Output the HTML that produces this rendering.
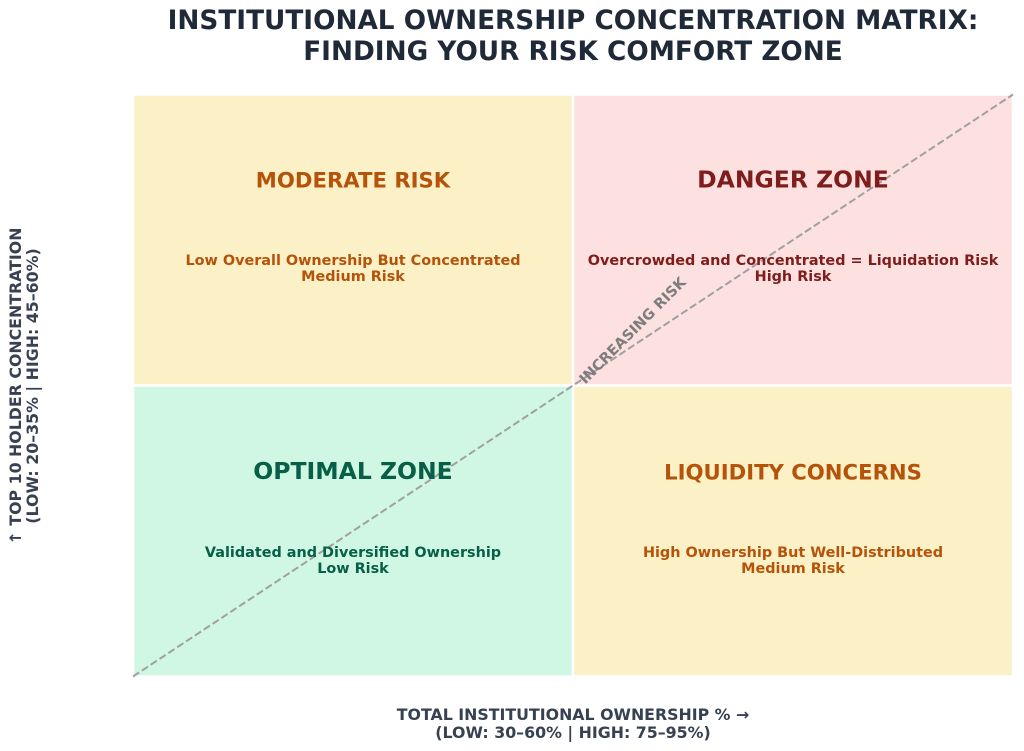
<!DOCTYPE html>
<html>
<head>
<meta charset="utf-8">
<style>
  html, body { margin: 0; padding: 0; background: #ffffff; }
  svg { display: block; }
  text { font-family: "DejaVu Sans", "Liberation Sans", sans-serif; font-weight: bold; }
</style>
</head>
<body>
<svg width="1024" height="751" viewBox="0 0 1024 751" xmlns="http://www.w3.org/2000/svg">
  <rect x="0" y="0" width="1024" height="751" fill="#ffffff"/>

  <!-- Title -->
  <text x="573" y="29" text-anchor="middle" font-size="26.3" fill="#1F2937">INSTITUTIONAL OWNERSHIP CONCENTRATION MATRIX:</text>
  <text x="573" y="60" text-anchor="middle" font-size="26.3" fill="#1F2937">FINDING YOUR RISK COMFORT ZONE</text>

  <!-- Quadrants -->
  <rect x="133" y="94.5" width="440" height="291" fill="#FCF0C6" stroke="#ffffff" stroke-width="2.5"/>
  <rect x="573" y="94.5" width="440" height="291" fill="#FDE0E0" stroke="#ffffff" stroke-width="2.5"/>
  <rect x="133" y="385.5" width="440" height="291" fill="#D0F7E3" stroke="#ffffff" stroke-width="2.5"/>
  <rect x="573" y="385.5" width="440" height="291" fill="#FCF0C6" stroke="#ffffff" stroke-width="2.5"/>

  <!-- Diagonal dashed line -->
  <line x1="133" y1="676.5" x2="1013" y2="94.5" stroke="#A0A0A0" stroke-width="2" stroke-dasharray="7.4 3.2"/>

  <!-- Increasing risk label -->
  <text transform="translate(636,334) rotate(-45)" text-anchor="middle" font-size="14.5" fill="#7D7D7D">INCREASING RISK</text>

  <!-- Moderate risk -->
  <text x="353" y="187.7" text-anchor="middle" font-size="21.2" fill="#B45309">MODERATE RISK</text>
  <text x="353" y="265" text-anchor="middle" font-size="14.4" fill="#B45309">Low Overall Ownership But Concentrated</text>
  <text x="353" y="281" text-anchor="middle" font-size="14.4" fill="#B45309">Medium Risk</text>

  <!-- Danger zone -->
  <text x="793" y="187.5" text-anchor="middle" font-size="23.5" fill="#7F1D1D">DANGER ZONE</text>
  <text x="793" y="265" text-anchor="middle" font-size="14.4" fill="#7F1D1D">Overcrowded and Concentrated = Liquidation Risk</text>
  <text x="793" y="281" text-anchor="middle" font-size="14.4" fill="#7F1D1D">High Risk</text>

  <!-- Optimal zone -->
  <text x="353" y="479" text-anchor="middle" font-size="23.5" fill="#065F46">OPTIMAL ZONE</text>
  <text x="353" y="557" text-anchor="middle" font-size="14.4" fill="#065F46">Validated and Diversified Ownership</text>
  <text x="353" y="573" text-anchor="middle" font-size="14.4" fill="#065F46">Low Risk</text>

  <!-- Liquidity concerns -->
  <text x="793" y="479.6" text-anchor="middle" font-size="21.2" fill="#B45309">LIQUIDITY CONCERNS</text>
  <text x="793" y="557" text-anchor="middle" font-size="14.4" fill="#B45309">High Ownership But Well-Distributed</text>
  <text x="793" y="573" text-anchor="middle" font-size="14.4" fill="#B45309">Medium Risk</text>

  <!-- X axis label -->
  <text x="573" y="720" text-anchor="middle" font-size="15.8" fill="#374151">TOTAL INSTITUTIONAL OWNERSHIP % →</text>
  <text x="573" y="738" text-anchor="middle" font-size="15.8" fill="#374151">(LOW: 30–60% | HIGH: 75–95%)</text>

  <!-- Y axis label -->
  <text transform="translate(21,386) rotate(-90)" text-anchor="middle" font-size="15.8" fill="#374151">↑ TOP 10 HOLDER CONCENTRATION</text>
  <text transform="translate(38,386) rotate(-90)" text-anchor="middle" font-size="15.8" fill="#374151">(LOW: 20–35% | HIGH: 45–60%)</text>
</svg>
</body>
</html>
